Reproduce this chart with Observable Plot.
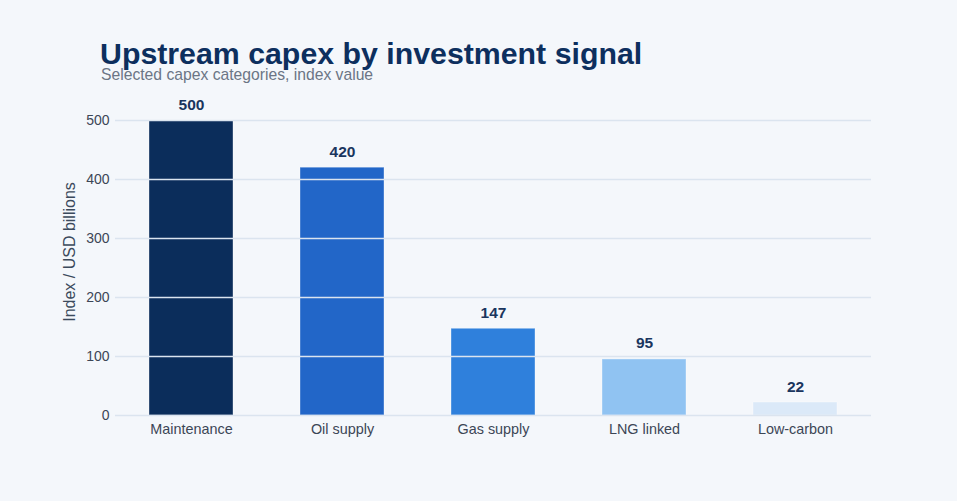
<!DOCTYPE html>
<html>
<head>
<meta charset="utf-8">
<script src="https://cdn.jsdelivr.net/npm/d3@7"></script>
<script src="https://cdn.jsdelivr.net/npm/@observablehq/plot@0.6"></script>
<style>
  html, body { margin: 0; padding: 0; background: #f4f7fb; }
  body { width: 957px; height: 501px; overflow: hidden; font-family: "Liberation Sans", Arial, sans-serif; }
  #header { position: relative; height: 88px; }
  #title { position: absolute; left: 100px; top: 41px; font-size: 30.3px; line-height: 26px; font-weight: bold; color: #0d2f5e; white-space: nowrap; }
  #subtitle { position: absolute; left: 101px; top: 67.5px; font-size: 15.7px; line-height: 14px; color: #6b7585; white-space: nowrap; }
  #chart svg { display: block; }
</style>
</head>
<body>
<div id="header">
  <div id="title">Upstream capex by investment signal</div>
  <div id="subtitle">Selected capex categories, index value</div>
</div>
<div id="chart"></div>
<script>
const categories = ["Maintenance", "Oil supply", "Gas supply", "LNG linked", "Low-carbon"];
const values = [500, 420, 147, 95, 22];
const colors = ["#0b2d5b", "#2266c8", "#2f80dc", "#90c3f2", "#dbe9f8"];
const yTicks = [0, 100, 200, 300, 400, 500];

const data = categories.map((c, i) => ({category: c, value: values[i], color: colors[i]}));

const chart = Plot.plot({
  width: 957,
  height: 387,
  marginLeft: 115,
  marginRight: 86,
  marginTop: 32,
  marginBottom: 60,
  style: {background: "transparent", fontFamily: "Liberation Sans, Arial, sans-serif"},
  x: {domain: categories, paddingInner: 0.445, paddingOuter: 0.222, label: null},
  y: {domain: [0, 500], label: null},
  marks: [
    Plot.barY(data, {x: "category", y: "value", fill: "color", stroke: "#ffffff", strokeOpacity: 0.35, strokeWidth: 1}),
    Plot.gridY(yTicks, {stroke: "#dbe4ef", strokeOpacity: 1, strokeWidth: 1.5}),
    Plot.axisY(yTicks, {tickSize: 0, tickPadding: 6, fontSize: 14, fill: "#3c4656", label: null}),
    Plot.axisX({tickSize: 0, tickPadding: 8, fontSize: 14.4, fill: "#3c4656", label: null}),
    Plot.text(["Index / USD billions"], {frameAnchor: "left", textAnchor: "middle", rotate: -90, dx: -46, dy: -16, fontSize: 16, fill: "#3b4a5c"}),
    Plot.text(data, {x: "category", y: "value", text: d => String(d.value), lineAnchor: "bottom", dy: -11, fontSize: 15.5, fontWeight: "bold", fill: "#1a355e"})
  ]
});
document.getElementById("chart").appendChild(chart);
</script>
</body>
</html>
